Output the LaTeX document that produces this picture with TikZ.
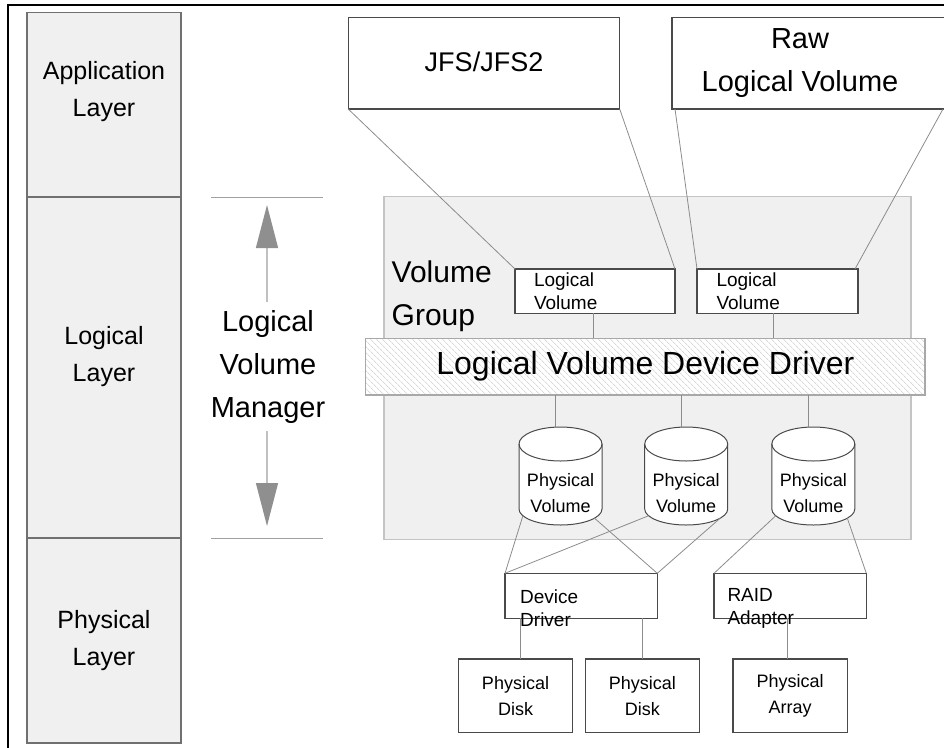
\documentclass[tikz,border=0pt]{standalone}
\usepackage{fontspec}
\setmainfont{Liberation Sans}
\usetikzlibrary{arrows.meta,patterns.meta,calc}

\definecolor{panel}{HTML}{F0F0F0}
\definecolor{edge}{HTML}{4A4A4A}
\definecolor{wire}{HTML}{8C8C8C}
\definecolor{colline}{HTML}{707070}
\definecolor{vgline}{HTML}{C4C4C4}
\definecolor{barline}{HTML}{A8A8A8}
\definecolor{hatch}{HTML}{C4C4C4}
\definecolor{arrowhead}{HTML}{8F8F8F}
\definecolor{arrowshaft}{HTML}{C0C0C0}
\definecolor{tickline}{HTML}{A0A0A0}

\newcommand\fs[2]{\fontsize{#1}{#2}\selectfont}

% physical volume drawn as a cylinder; #1 name, #2 centre x
\newcommand\pvcyl[2]{%
  \path[fill=white, draw=edge, line width=1pt]
    (#2-41.5,-444) -- (#2-41.5,-509)
    arc[start angle=180, end angle=360, x radius=41.5, y radius=16]
    -- (#2+41.5,-444)
    arc[start angle=0, end angle=180, x radius=41.5, y radius=17] -- cycle;
  \draw[edge, line width=1pt] (#2-41.5,-444)
    arc[start angle=180, end angle=360, x radius=41.5, y radius=17];
  \node[pvtext] (#1) at (#2,-493) {Physical\\Volume};
  \coordinate (#1-top) at (#2-5,-427.2);
  \coordinate (#1-bl) at ($(#2,-509)+(205:41.5 and 16)$);
  \coordinate (#1-br) at ($(#2,-509)+(325:41.5 and 16)$);
}

\tikzset{
  layerbox/.style={draw=colline, fill=panel, line width=1.2pt, inner sep=0pt,
    outer sep=0pt, anchor=north west},
  layertext/.style={align=center, font=\fs{25}{37}, inner sep=0pt},
  bigbox/.style={draw=edge, fill=white, line width=1.2pt, inner sep=0pt,
    outer sep=0pt, anchor=north west},
  smallbox/.style={draw=edge, fill=white, line width=1.1pt, inner sep=0pt,
    outer sep=0pt, anchor=north west},
  lvbox/.style={smallbox, align=left, text width=122pt, inner xsep=19pt,
    inner ysep=0pt, font=\fs{19}{23}},
  vgbox/.style={draw=vgline, fill=panel, line width=1.1pt, inner sep=0pt,
    outer sep=0pt, anchor=north west},
  barbox/.style={draw=barline, line width=1.1pt, preaction={fill=white},
    pattern={Lines[angle=-45, distance=4pt, line width=0.6pt]},
    pattern color=hatch, inner sep=0pt, outer sep=0pt, anchor=north west,
    font=\fs{32}{38}},
  pvtext/.style={align=center, font=\fs{18}{26}, inner sep=0pt},
  disktext/.style={align=center, font=\fs{18}{26}},
  drvtext/.style={align=left, anchor=west, inner sep=0pt, font=\fs{19}{23}},
  wire/.style={draw=wire, line width=0.8pt},
  tick/.style={draw=tickline, line width=1pt},
  lvmarrow/.style={draw=arrowshaft, line width=1.3pt,
    -{Triangle[width=22pt, length=43pt, color=arrowhead, fill=arrowhead]}},
}

\begin{document}
\begin{tikzpicture}[x=1pt, y=1pt]
\useasboundingbox (0,0) rectangle (944,-747);
\clip (0,0) rectangle (944,-747);

% outer frame
\coordinate (frameBL) at (8,-750);
\coordinate (frameTL) at (8,-5);
\coordinate (frameTR) at (950,-5);
\draw[black, line width=1.3pt] (frameBL) -- (frameTL) -- (frameTR);

% layer column
\node[layerbox, minimum width=154, minimum height=184.3] (appL) at (27,-12.7) {};
\node[layerbox, minimum width=154, minimum height=341] (logL) at (27,-197) {};
\node[layerbox, minimum width=154, minimum height=205] (phyL) at (27,-538) {};
\node[layertext] (appT) at (104,-92) {Application\\Layer};
\node[layertext] (logT) at (104,-357) {Logical\\Layer};
\node[layertext] (phyT) at (104,-641) {Physical\\Layer};

% logical volume manager extent
\coordinate (tickTopL) at (211,-197);
\coordinate (tickTopR) at (323,-197);
\coordinate (tickBotL) at (211,-538);
\coordinate (tickBotR) at (323,-538);
\draw[tick] (tickTopL) -- (tickTopR);
\draw[tick] (tickBotL) -- (tickBotR);
\node[align=center, font=\fs{29}{43}, inner sep=0pt] (lvm) at (268,-367)
  {Logical\\Volume\\Manager};
\coordinate (upTail) at (267,-302);
\coordinate (upTip) at (267,-205);
\coordinate (downTail) at (267,-431);
\coordinate (downTip) at (267,-526);
\draw[lvmarrow] (upTail) -- (upTip);
\draw[lvmarrow] (downTail) -- (downTip);

% application layer boxes
\node[bigbox, minimum width=271.5, minimum height=91.3, font=\fs{27}{32}]
  (jfs) at (348.2,-17.7) {};
\node[font=\fs{27}{32}, inner sep=0pt] (jfsT) at (484,-62) {JFS/JFS2};
\node[bigbox, minimum width=300, minimum height=91.3] (raw) at (672,-17.7) {};
\node[align=center, font=\fs{29}{43}, inner sep=0pt] (rawT) at (800,-63.5)
  {Raw\\Logical Volume};
\coordinate (rawcut) at ($(raw.south west)+(271,0)$);

% volume group
\node[vgbox, minimum width=527, minimum height=342.8] (vg) at (384,-196.7) {};
\node[align=left, anchor=west, inner sep=0pt, font=\fs{30}{43}] (vgT)
  at (391.5,-296) {Volume\\Group};
\node[lvbox, minimum width=160, minimum height=44.3] (lv1) at (515,-269)
  {Logical\\Volume};
\node[lvbox, minimum width=161, minimum height=44.3] (lv2) at (697,-269)
  {Logical\\Volume};
\node[barbox, minimum width=559.3, minimum height=56.7] (lvdd) at (365.7,-338.3)
  {Logical Volume Device Driver};

% physical volumes
\pvcyl{pv1}{560.5}
\pvcyl{pv2}{686.2}
\pvcyl{pv3}{813.3}

% physical layer
\node[smallbox, minimum width=152.3, minimum height=45] (dd) at (505,-573.3) {};
\node[smallbox, minimum width=152.3, minimum height=45] (raid) at (714,-573.3) {};
\node[drvtext] (ddT) at (520,-608.5) {Device\\Driver};
\node[drvtext] (raidT) at (727.3,-608.5) {RAID\\Adapter};
\node[smallbox, minimum width=114.4, minimum height=73.7, disktext] (disk1)
  at (458.3,-659) {Physical\\Disk};
\node[smallbox, minimum width=114, minimum height=73.7, disktext] (disk2)
  at (585.3,-659) {Physical\\Disk};
\node[smallbox, minimum width=114.3, minimum height=73.7, disktext] (arr)
  at (733,-659) {Physical\\Array};

% connectors
\draw[wire] (jfs.south west) -- (lv1.north west);
\draw[wire] (jfs.south east) -- (lv1.north east);
\draw[wire] ([xshift=3]raw.south west) -- (lv2.north west);
\draw[wire] (rawcut) -- ([xshift=-3]lv2.north east);
\draw[wire] ([xshift=-2]lv1.south) -- ([xshift=-2]lv1.south |- lvdd.north);
\draw[wire] ([xshift=-4.5]lv2.south) -- ([xshift=-4.5]lv2.south |- lvdd.north);
\draw[wire] (pv1-top |- lvdd.south) -- (pv1-top);
\draw[wire] (pv2-top |- lvdd.south) -- (pv2-top);
\draw[wire] (pv3-top |- lvdd.south) -- (pv3-top);
\draw[wire] (pv1-bl) -- (dd.north west);
\draw[wire] (pv1-br) -- (dd.north east);
\draw[wire] (pv2-bl) -- (dd.north west);
\draw[wire] (pv2-br) -- (dd.north east);
\draw[wire] (pv3-bl) -- (raid.north west);
\draw[wire] (pv3-br) -- (raid.north east);
\draw[wire] ([xshift=4.5]disk1.north |- dd.south) -- ([xshift=4.5]disk1.north);
\draw[wire] (disk2.north |- dd.south) -- (disk2.north);
\draw[wire] ([xshift=-2.5]arr.north |- raid.south) -- ([xshift=-2.5]arr.north);
\end{tikzpicture}
\end{document}
